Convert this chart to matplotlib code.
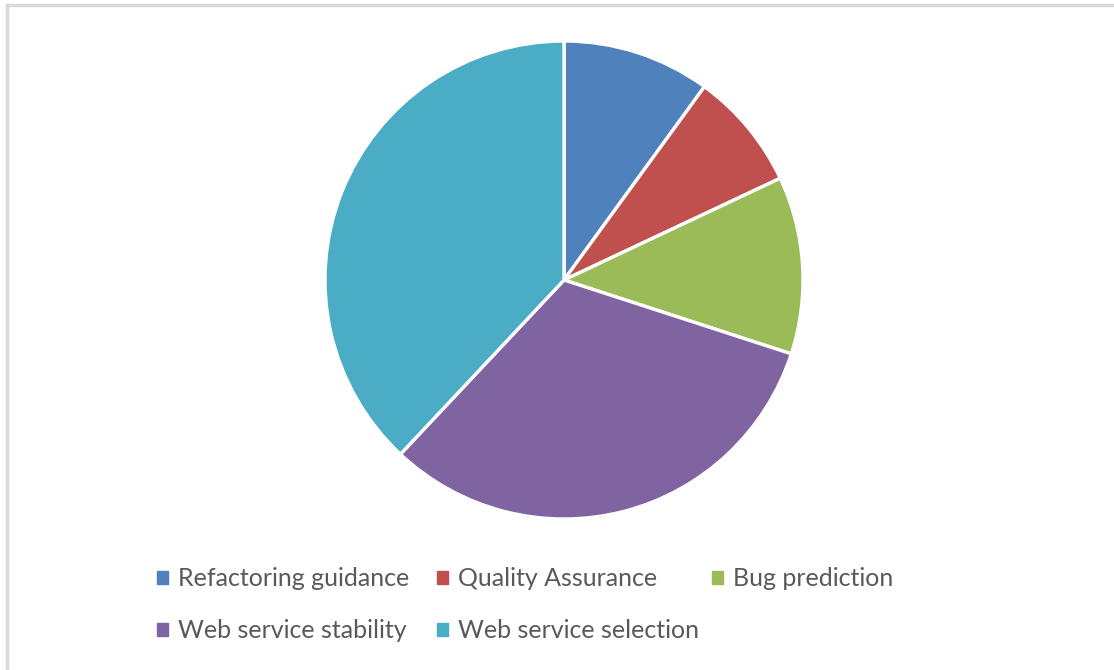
import matplotlib
matplotlib.use("Agg")
import matplotlib.pyplot as plt
from matplotlib.patches import Patch
from matplotlib.lines import Line2D

categories = ["Refactoring guidance", "Quality Assurance", "Bug prediction",
              "Web service stability", "Web service selection"]
values = [10, 8, 12, 32, 38]
colors = ["#4F81BD", "#C0504D", "#9BBB59", "#8064A2", "#4BACC6"]

plt.rcParams['font.family'] = ['Lato', 'DejaVu Sans']

fig = plt.figure(figsize=(11.14, 6.70), dpi=100)
fig.patch.set_facecolor("white")

ax = fig.add_axes([325/1114, 151/670, 478/1114, 478/670])
ax.pie(values, colors=colors, startangle=90, counterclock=False, radius=1,
       wedgeprops=dict(edgecolor="white", linewidth=2.4))
ax.set_xlim(-1.0, 1.0)
ax.set_ylim(-1.0, 1.0)
ax.set_aspect("equal")
ax.axis("off")

# chart frame (top and left visible)
fig.add_artist(Line2D([7/1114, 1], [1-5/670, 1-5/670], color="#d9d9d9", lw=2.5,
                      transform=fig.transFigure))
fig.add_artist(Line2D([7/1114, 7/1114], [0, 1-5/670], color="#d9d9d9", lw=2.5,
                      transform=fig.transFigure))

col_x = [157/1114, 437/1114, 712/1114]
row_y = [1-579/670, 1-631/670]
for i, (lab, col) in enumerate(zip(categories, colors)):
    c, r = i % 3, i // 3
    fig.legend(handles=[Patch(facecolor=col, edgecolor=col)], labels=[lab],
               loc="center left", bbox_to_anchor=(col_x[c], row_y[r]),
               bbox_transform=fig.transFigure, frameon=False,
               handlelength=0.42, handleheight=0.42, handletextpad=0.42,
               borderpad=0, borderaxespad=0, fontsize=18, labelcolor="#595959")

fig.savefig("out.png", dpi=100, facecolor="white")
